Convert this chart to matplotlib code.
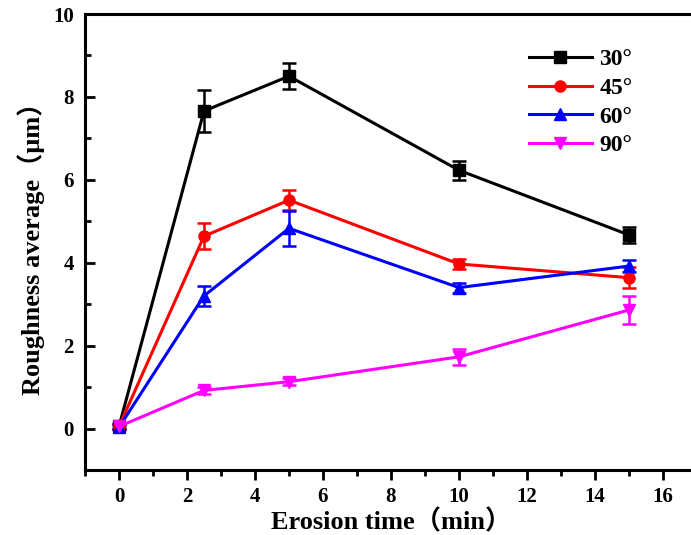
import matplotlib.pyplot as plt
from matplotlib.ticker import MultipleLocator

# data
time = [0, 2.5, 5, 10, 15]
labels = ['30°', '45°', '60°', '90°']
ra_30 = [0.05, 7.66, 8.50, 6.23, 4.67]
err_30 = [0.05, 0.50, 0.32, 0.23, 0.19]
ra_45 = [0.05, 4.64, 5.51, 3.97, 3.64]
err_45 = [0.05, 0.32, 0.25, 0.12, 0.26]
ra_60 = [0.03, 3.20, 4.83, 3.40, 3.92]
err_60 = [0.05, 0.25, 0.42, 0.12, 0.15]
ra_90 = [0.05, 0.92, 1.13, 1.73, 2.86]
err_90 = [0.05, 0.08, 0.08, 0.20, 0.34]

series = [ra_30, ra_45, ra_60, ra_90]
errors = [err_30, err_45, err_60, err_90]
colors = ['black', 'red', 'blue', 'magenta']
markers = ['s', 'o', '^', 'v']

fonts = ['Liberation Serif', 'Noto Sans CJK SC']
plt.rcParams['font.family'] = fonts
plt.rcParams['font.weight'] = 'bold'

fig = plt.figure(figsize=(6.91, 5.35), dpi=100)
ax = fig.add_axes([85/691, 1-470/535, 612/691, 456/535])

handles = []
for y, e, c, m, lab in zip(series, errors, colors, markers, labels):
    cont = ax.errorbar(time, y, yerr=e, color=c, marker=m, markersize=8, lw=2.2,
                       elinewidth=1.8, capsize=5, capthick=1.8, label=lab)
    handles.append(cont.lines[0])

ax.set_xlim(-1, 17)
ax.set_ylim(-1, 10)
ax.xaxis.set_major_locator(MultipleLocator(2))
ax.xaxis.set_minor_locator(MultipleLocator(1))
ax.yaxis.set_major_locator(MultipleLocator(2))
ax.yaxis.set_minor_locator(MultipleLocator(1))
ax.tick_params(axis='x', which='both', direction='out', width=2, labelsize=15, pad=5)
ax.tick_params(axis='y', which='both', direction='in', width=2, labelsize=15, pad=8)
ax.tick_params(which='major', length=7)
ax.tick_params(which='minor', length=4)
for s in ax.spines.values():
    s.set_linewidth(2.2)

ax.set_xlabel('Erosion time（min）', fontsize=19, fontweight='bold', labelpad=2)
ax.set_ylabel('Roughness average（μm）', fontsize=19, fontweight='bold', labelpad=6)

ax.legend(handles, labels, loc='upper left', bbox_to_anchor=(0.69, 0.97), frameon=False,
          prop={'size': 17, 'weight': 'bold'}, handlelength=2.7, handletextpad=0.3,
          labelspacing=0.3)

plt.savefig('out.png', dpi=100)
